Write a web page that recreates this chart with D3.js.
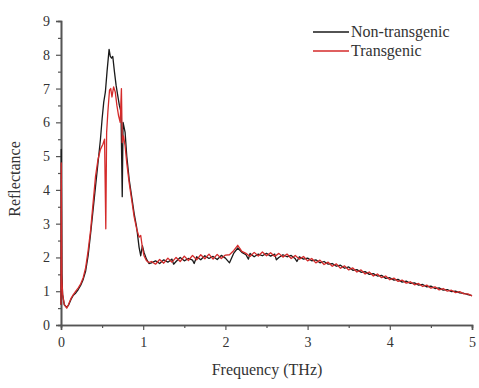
<!DOCTYPE html>
<html>
<head>
<meta charset="utf-8">
<script src="https://cdn.jsdelivr.net/npm/d3@7"></script>
<style>
  body { margin: 0; background: #fff; }
  svg text { font-family: "Liberation Serif", "Times New Roman", serif; fill: #333; }
</style>
</head>
<body>
<svg id="chart" width="479" height="388"></svg>
<script>
"use strict";

// ==========  Data  ==========
var xTicks = [0, 1, 2, 3, 4, 5]
var yTicks = [0, 1, 2, 3, 4, 5, 6, 7, 8, 9]
var seriesNames = ['Non-transgenic', 'Transgenic']

// [frequency (THz), reflectance]
var nonTransgenic = [
  [0.000, 0.60], [0.003, 5.20], [0.010, 1.50], [0.020, 0.90], [0.040, 0.60], [0.070, 0.52],
  [0.090, 0.58], [0.120, 0.75], [0.150, 0.88], [0.180, 0.95], [0.210, 1.05], [0.240, 1.18],
  [0.270, 1.35], [0.300, 1.60], [0.330, 2.05], [0.360, 2.70], [0.390, 3.40], [0.420, 4.10],
  [0.450, 4.80], [0.480, 5.50], [0.500, 6.10], [0.520, 6.60], [0.540, 6.90], [0.560, 7.50],
  [0.585, 8.16], [0.600, 7.95], [0.615, 7.90], [0.630, 7.95], [0.650, 7.50], [0.670, 7.10],
  [0.690, 6.80], [0.710, 6.50], [0.730, 6.30], [0.745, 3.80], [0.755, 6.00], [0.780, 5.70],
  [0.800, 5.00], [0.830, 4.30], [0.860, 3.80], [0.890, 3.30], [0.920, 2.90], [0.950, 2.30],
  [0.970, 2.05], [0.990, 2.35], [1.010, 2.15], [1.040, 1.95], [1.070, 1.82],
  [1.10, 1.84], [1.15, 1.90], [1.20, 1.82], [1.25, 1.93], [1.30, 1.86], [1.35, 1.95],
  [1.37, 1.80], [1.40, 1.88], [1.45, 2.00], [1.50, 1.90], [1.55, 1.97], [1.60, 1.92],
  [1.62, 1.82], [1.65, 2.02], [1.70, 1.93], [1.75, 2.05], [1.80, 1.97], [1.85, 2.03],
  [1.90, 1.94], [1.95, 2.06], [2.00, 1.98], [2.05, 1.84], [2.10, 2.12], [2.15, 2.28],
  [2.20, 2.15], [2.25, 2.08], [2.28, 1.95], [2.30, 2.12], [2.35, 2.02], [2.40, 2.10],
  [2.45, 2.05], [2.50, 2.12], [2.55, 2.04], [2.60, 2.10], [2.62, 1.93], [2.65, 2.00],
  [2.70, 2.08], [2.75, 2.02], [2.80, 2.06], [2.85, 1.96], [2.87, 1.88], [2.90, 2.02],
  [2.95, 1.95], [3.00, 1.98], [3.05, 1.90], [3.10, 1.93], [3.15, 1.84], [3.20, 1.88],
  [3.25, 1.80], [3.30, 1.82], [3.35, 1.74], [3.40, 1.77], [3.45, 1.68], [3.50, 1.72],
  [3.55, 1.62], [3.60, 1.64], [3.65, 1.56], [3.70, 1.58], [3.75, 1.50], [3.80, 1.52],
  [3.85, 1.45], [3.90, 1.47], [3.95, 1.38], [4.00, 1.40], [4.05, 1.33], [4.10, 1.35],
  [4.15, 1.27], [4.20, 1.30], [4.25, 1.23], [4.30, 1.25], [4.35, 1.18], [4.40, 1.20],
  [4.45, 1.13], [4.50, 1.15], [4.55, 1.08], [4.60, 1.10], [4.65, 1.03], [4.70, 1.05],
  [4.75, 0.99], [4.80, 1.00], [4.85, 0.95], [4.90, 0.94], [4.95, 0.90], [5.00, 0.87]
]

var transgenic = [
  [0.000, 0.60], [0.003, 4.80], [0.010, 1.40], [0.020, 0.90], [0.040, 0.60], [0.070, 0.50],
  [0.090, 0.60], [0.120, 0.78], [0.150, 0.90], [0.180, 1.00], [0.210, 1.10], [0.240, 1.22],
  [0.270, 1.40], [0.300, 1.70], [0.330, 2.20], [0.360, 2.80], [0.390, 3.60], [0.420, 4.40],
  [0.450, 4.90], [0.480, 5.20], [0.510, 5.35], [0.530, 5.50], [0.545, 2.85], [0.555, 5.70],
  [0.570, 6.30], [0.590, 6.95], [0.605, 7.00], [0.620, 6.75], [0.640, 7.05], [0.660, 6.90],
  [0.680, 6.50], [0.700, 6.20], [0.720, 6.00], [0.735, 7.00], [0.745, 5.40], [0.760, 5.60],
  [0.780, 5.30], [0.800, 4.80], [0.830, 4.20], [0.860, 3.70], [0.890, 3.20], [0.920, 2.85],
  [0.950, 2.60], [0.970, 2.65], [0.990, 2.30], [1.010, 2.05], [1.040, 1.90], [1.070, 1.85],
  [1.10, 1.88], [1.15, 1.80], [1.20, 1.94], [1.25, 1.83], [1.30, 1.98], [1.35, 1.86],
  [1.40, 2.00], [1.45, 1.88], [1.50, 2.04], [1.55, 1.91], [1.60, 2.06], [1.65, 1.93],
  [1.70, 2.08], [1.75, 1.96], [1.80, 2.10], [1.85, 1.95], [1.90, 2.09], [1.95, 1.97],
  [2.00, 2.07], [2.05, 2.08], [2.10, 2.20], [2.15, 2.36], [2.20, 2.18], [2.25, 2.12],
  [2.30, 2.03], [2.35, 2.15], [2.40, 2.04], [2.45, 2.16], [2.50, 2.05], [2.55, 2.14],
  [2.60, 2.03], [2.65, 2.12], [2.70, 2.01], [2.75, 2.10], [2.80, 1.97], [2.85, 2.06],
  [2.90, 1.95], [2.95, 2.03], [3.00, 1.90], [3.05, 1.97], [3.10, 1.84], [3.15, 1.92],
  [3.20, 1.79], [3.25, 1.86], [3.30, 1.74], [3.35, 1.81], [3.40, 1.68], [3.45, 1.75],
  [3.50, 1.63], [3.55, 1.69], [3.60, 1.57], [3.65, 1.63], [3.70, 1.51], [3.75, 1.57],
  [3.80, 1.45], [3.85, 1.51], [3.90, 1.40], [3.95, 1.45], [4.00, 1.34], [4.05, 1.39],
  [4.10, 1.29], [4.15, 1.33], [4.20, 1.24], [4.25, 1.28], [4.30, 1.19], [4.35, 1.23],
  [4.40, 1.14], [4.45, 1.18], [4.50, 1.09], [4.55, 1.13], [4.60, 1.04], [4.65, 1.08],
  [4.70, 1.00], [4.75, 1.03], [4.80, 0.96], [4.85, 0.99], [4.90, 0.92], [4.95, 0.92],
  [5.00, 0.86]
]

// ==========  Layout  ==========
var svg = d3.select('#chart')
var plotLeft = 61, plotRight = 472, plotTop = 21, plotBottom = 325

var x = d3.scaleLinear().domain([0, 5]).range([plotLeft, plotRight])
var y = d3.scaleLinear().domain([0, 9]).range([plotBottom, plotTop])

// minor ticks at the half units
var xMinor = d3.range(0.5, 5, 1)
var yMinor = d3.range(0.5, 9, 1)

svg.append('g')
   .attr('transform', 'translate(0,' + plotBottom + ')')
   .call(d3.axisBottom(x).tickValues(xMinor).tickSize(3).tickFormat(''))
svg.append('g')
   .attr('transform', 'translate(' + plotLeft + ',0)')
   .call(d3.axisLeft(y).tickValues(yMinor).tickSize(3).tickFormat(''))

svg.append('g')
   .attr('transform', 'translate(0,' + plotBottom + ')')
   .call(d3.axisBottom(x).tickValues(xTicks).tickSize(5).tickPadding(7).tickFormat(d3.format('d')))
svg.append('g')
   .attr('transform', 'translate(' + plotLeft + ',0)')
   .call(d3.axisLeft(y).tickValues(yTicks).tickSize(5).tickPadding(6).tickFormat(d3.format('d')))

svg.selectAll('.domain').attr('stroke', '#555').attr('stroke-width', 1.6)
svg.selectAll('.tick line').attr('stroke', '#555').attr('stroke-width', 1.2)
svg.selectAll('.tick text').attr('font-size', 14).attr('fill', '#333')
  .attr('font-family', '"Liberation Serif", serif')

// ==========  Lines  ==========
var line = d3.line().x(function(d) { return x(d[0]) }).y(function(d) { return y(d[1]) })

svg.append('path').datum(nonTransgenic)
   .attr('fill', 'none').attr('stroke', '#1a1a1a').attr('stroke-width', 1.3)
   .attr('stroke-linejoin', 'round').attr('d', line)
svg.append('path').datum(transgenic)
   .attr('fill', 'none').attr('stroke', '#d42a2a').attr('stroke-width', 1.3)
   .attr('stroke-linejoin', 'round').attr('d', line)

// ==========  Titles  ==========
svg.append('text').attr('x', 267).attr('y', 375)
   .attr('text-anchor', 'middle').attr('font-size', 16).text('Frequency (THz)')
svg.append('text').attr('transform', 'translate(20,179) rotate(-90)')
   .attr('text-anchor', 'middle').attr('font-size', 16).text('Reflectance')

// ==========  Legend  ==========
var legendColors = ['#1a1a1a', '#d42a2a']
var legend = svg.append('g').attr('transform', 'translate(313,32)')
seriesNames.forEach(function(name, i) {
  var row = legend.append('g').attr('transform', 'translate(0,' + (i * 19) + ')')
  row.append('line').attr('x1', 0).attr('x2', 36).attr('y1', 0).attr('y2', 0)
     .attr('stroke', legendColors[i]).attr('stroke-width', 1.3)
  row.append('text').attr('x', 38).attr('y', 5).attr('font-size', 16).text(name)
})
</script>
</body>
</html>
